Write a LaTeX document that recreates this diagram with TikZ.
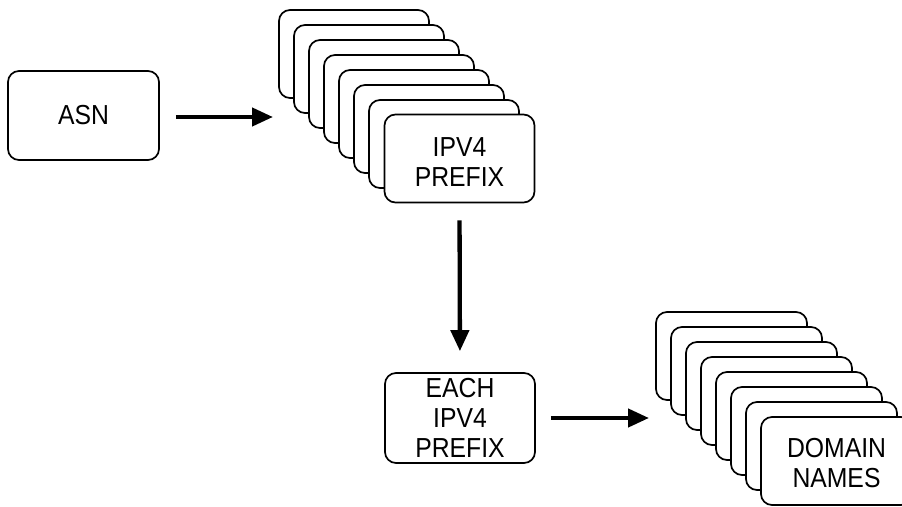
\documentclass[tikz,border=0pt]{standalone}
\usepackage{fontspec}
\setmainfont{Liberation Sans}
\newfontfamily\labfont{Liberation Sans}[FakeStretch=0.9]
\usetikzlibrary{arrows.meta}
\begin{document}
\begin{tikzpicture}[x=1pt,y=-1pt,
  labtext/.style={font=\labfont\fontsize{27.5}{30}\selectfont, align=center},
  card/.style={draw=black, line width=1.7pt, rounded corners=11pt, fill=white,
    minimum width=150pt, minimum height=88pt, inner sep=0pt, labtext},
  flow/.style={line width=4.3pt, -{Triangle[length=21pt,width=18pt]}}]
\useasboundingbox (0,0) rectangle (902,506);
\node[card, minimum width=151pt, minimum height=89pt] (asn) at (83.5,115.5) {ASN};
\foreach \i in {0,...,6} {
  \node[card] (s1c\i) at ({354+15*\i},{54+15*\i}) {};
}
\node[card] (s1c7) at (459.5,158.5) {};
\node[labtext, inner sep=0pt] (s1t) at (459.5,162) {IPV4\\PREFIX};
\node[card, minimum height=90pt] (each) at (460,418) {EACH\\IPV4\\PREFIX};
\foreach \i in {0,...,6} {
  \node[card, minimum width=151pt] (s2c\i) at ({731.5+15*\i},{356+15*\i}) {};
}
\node[card, minimum width=151pt] (s2c7) at (836.5,461) {};
\node[labtext, inner sep=0pt] (s2t) at (836.5,463) {DOMAIN\\NAMES};
\coordinate (t1) at (273,117);
\coordinate (t3) at (649,418);
\draw[flow, shorten <=16pt] (asn.east |- t1) -- (t1);
\draw[flow, shorten <=17pt, shorten >=21pt] (s1c7.south) -- (each.north);
\draw[flow, shorten <=15pt] (each.east) -- (t3);
\end{tikzpicture}
\end{document}
